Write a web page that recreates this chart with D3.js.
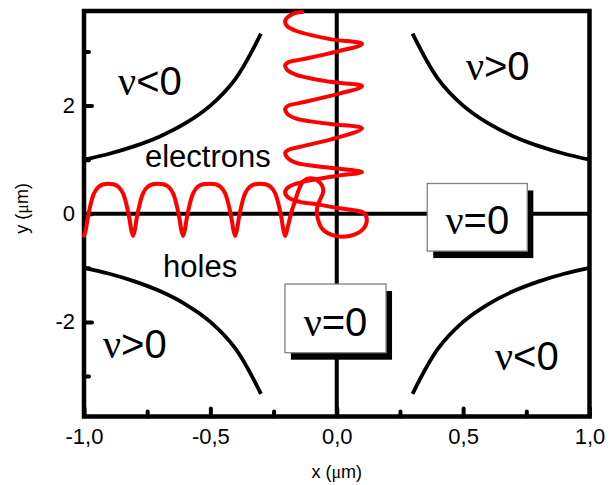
<!DOCTYPE html>
<html>
<head>
<meta charset="utf-8">
<script src="https://cdn.jsdelivr.net/npm/d3@7"></script>
<style>
body { margin: 0; background: #fff; }
svg text { font-family: Arial, "Liberation Sans", sans-serif; fill: #000; }
</style>
</head>
<body>
<script>
// axis ticks
var xTicks = [-1, -0.5, 0, 0.5, 1];
var xTickLabels = ["-1,0", "-0,5", "0,0", "0,5", "1,0"];
var xMinor = [-0.75, -0.25, 0.25, 0.75];
var yTicks = [-2, 0, 2];
var yTickLabels = ["-2", "0", "2"];
var yMinor = [-3, -1, 1, 3];

// the four hyperbola branches (x, y in um)
var hypUL = [[-1, 1], [-0.9, 1.11], [-0.8, 1.25], [-0.7, 1.43], [-0.6, 1.67], [-0.5, 2], [-0.4, 2.5], [-0.3, 3.33]];
var hypUR = [[0.3, 3.33], [0.4, 2.5], [0.5, 2], [0.6, 1.67], [0.7, 1.43], [0.8, 1.25], [0.9, 1.11], [1, 1]];
var hypLL = [[-1, -1], [-0.9, -1.11], [-0.8, -1.25], [-0.7, -1.43], [-0.6, -1.67], [-0.5, -2], [-0.4, -2.5], [-0.3, -3.33]];
var hypLR = [[0.3, -3.33], [0.4, -2.5], [0.5, -2], [0.6, -1.67], [0.7, -1.43], [0.8, -1.25], [0.9, -1.11], [1, -1]];

// red trajectory, left end -> top end
var wave = [
  [-1.000,-0.41],[-0.993,-0.30],[-0.986,-0.10],[-0.975,0.15],[-0.960,0.38],[-0.942,0.50],[-0.922,0.545],[-0.903,0.555],
  [-0.884,0.545],[-0.864,0.50],[-0.846,0.38],[-0.831,0.15],[-0.820,-0.10],[-0.813,-0.30],[-0.806,-0.41],
  [-0.799,-0.30],[-0.792,-0.10],[-0.781,0.15],[-0.766,0.38],[-0.748,0.50],[-0.728,0.545],[-0.707,0.555],
  [-0.686,0.545],[-0.666,0.50],[-0.648,0.38],[-0.633,0.15],[-0.622,-0.10],[-0.615,-0.30],[-0.608,-0.41],
  [-0.601,-0.30],[-0.594,-0.10],[-0.583,0.15],[-0.568,0.38],[-0.550,0.50],[-0.530,0.545],[-0.505,0.555],
  [-0.480,0.545],[-0.460,0.50],[-0.442,0.38],[-0.427,0.15],[-0.416,-0.10],[-0.409,-0.30],[-0.402,-0.41],
  [-0.395,-0.30],[-0.388,-0.10],[-0.377,0.15],[-0.362,0.38],[-0.344,0.50],[-0.324,0.545],[-0.303,0.555],
  [-0.282,0.545],[-0.262,0.50],[-0.244,0.38],[-0.229,0.15],[-0.218,-0.10],[-0.211,-0.30],[-0.204,-0.41],
  [-0.194,-0.25],[-0.180,0.02],[-0.164,0.25],[-0.148,0.47],[-0.130,0.61],[-0.105,0.655],[-0.078,0.62],[-0.058,0.52],
  [-0.054,0.40],[-0.066,0.26],[-0.078,0.10],[-0.075,-0.09],[-0.057,-0.28],[-0.014,-0.40],[0.050,-0.41],[0.101,-0.30],
  [0.119,-0.11],[0.105,0.02],[0.061,0.07],[-0.002,0.11],[-0.073,0.17],[-0.145,0.22],[-0.192,0.30],[-0.204,0.41],
  [-0.188,0.50],[-0.133,0.59],[-0.002,0.70],
  [0.100,0.77],[-0.026,0.85],[-0.160,0.94],[-0.196,1.04],[-0.204,1.13],[-0.192,1.18],[-0.145,1.24],[-0.026,1.37],[0.100,1.58],
  [-0.026,1.66],[-0.160,1.76],[-0.196,1.85],[-0.204,1.94],[-0.192,2.00],[-0.145,2.05],[-0.026,2.18],[0.100,2.36],
  [-0.026,2.44],[-0.160,2.57],[-0.196,2.66],[-0.204,2.75],[-0.192,2.80],[-0.145,2.85],[-0.026,2.97],[0.100,3.14],
  [-0.026,3.23],[-0.160,3.38],[-0.196,3.47],[-0.204,3.57],[-0.176,3.69],[-0.137,3.73]
];

// region labels: sign, anchor (x, y in um)
var nuSigns = ["<0", ">0", ">0", "<0"];
var nuAt = [[-0.865, 2.2], [0.511, 2.47], [-0.925, -2.67], [0.626, -2.89]];
var words = ["electrons", "holes"];
var wordsAt = [[-0.759, 0.86], [-0.687, -1.17]];
// boxed "nu=0" labels: [x0, x1, yTop, yBottom]
var boxes = [[-0.205, 0.195, -1.30, -2.57], [0.358, 0.754, 0.56, -0.69]];

var W = 614, H = 485;
var svg = d3.select("body").append("svg").attr("width", W).attr("height", H);

var x = d3.scaleLinear().domain([-1, 1]).range([84, 589.5]);
var y = d3.scaleLinear().domain([-3.75, 3.75]).range([416.5, 11]);

var line = d3.line()
    .x(d => x(d[0]))
    .y(d => y(d[1]))
    .curve(d3.curveCatmullRom.alpha(0.5));

// centre axes
svg.append("line").attr("x1", x(-1)).attr("x2", x(1)).attr("y1", y(0)).attr("y2", y(0))
    .attr("stroke", "#000").attr("stroke-width", 4);
svg.append("line").attr("x1", x(0)).attr("x2", x(0)).attr("y1", y(3.75)).attr("y2", y(-3.75))
    .attr("stroke", "#000").attr("stroke-width", 4);

// axes with inward ticks
var gx = svg.append("g").attr("transform", "translate(0," + y(-3.75) + ")")
    .call(d3.axisBottom(x).tickValues(xTicks).tickSize(-8).tickPadding(12)
        .tickFormat((d, i) => xTickLabels[i]));
var gxm = svg.append("g").attr("transform", "translate(0," + y(-3.75) + ")")
    .call(d3.axisBottom(x).tickValues(xMinor).tickSize(-5).tickFormat(""));
var gy = svg.append("g").attr("transform", "translate(" + x(-1) + ",0)")
    .call(d3.axisLeft(y).tickValues(yTicks).tickSize(-8).tickPadding(9)
        .tickFormat((d, i) => yTickLabels[i]));
var gym = svg.append("g").attr("transform", "translate(" + x(-1) + ",0)")
    .call(d3.axisLeft(y).tickValues(yMinor).tickSize(-5).tickFormat(""));

[gx, gxm, gy, gym].forEach(g => {
  g.select(".domain").remove();
  g.selectAll(".tick line").attr("stroke", "#000").attr("stroke-width", 4).attr("stroke-linecap", "round");
  g.selectAll(".tick text").style("font-size", "22px").attr("fill", "#000");
});

// frame
svg.append("rect").attr("x", x(-1)).attr("y", y(3.75))
    .attr("width", x(1) - x(-1)).attr("height", y(-3.75) - y(3.75))
    .attr("fill", "none").attr("stroke", "#000").attr("stroke-width", 4.5);

// hyperbolas
svg.selectAll(".hyp").data([hypUL, hypUR, hypLL, hypLR]).enter().append("path")
    .attr("class", "hyp")
    .attr("d", line)
    .attr("fill", "none").attr("stroke", "#000").attr("stroke-width", 3.8);

// red wave
svg.append("path").datum(wave)
    .attr("d", line)
    .attr("fill", "none").attr("stroke", "#ff0000").attr("stroke-width", 4)
    .attr("stroke-linejoin", "round").attr("stroke-linecap", "round");

// nu labels
function nuText(sel, sign) {
  sel.append("tspan").style("font-family", "'Liberation Serif', 'Times New Roman', serif").text("\u03bd");
  sel.append("tspan").text(sign);
}
nuSigns.forEach((s, i) => {
  var t = svg.append("text").attr("x", x(nuAt[i][0])).attr("y", y(nuAt[i][1]))
      .style("font-size", "40px");
  nuText(t, s);
});

words.forEach((w, i) => {
  svg.append("text").attr("x", x(wordsAt[i][0])).attr("y", y(wordsAt[i][1]))
      .style("font-size", "31px").text(w);
});

// boxed labels with drop shadow
boxes.forEach(b => {
  var bx = x(b[0]), by = y(b[2]), bw = x(b[1]) - x(b[0]), bh = y(b[3]) - y(b[2]);
  svg.append("rect").attr("x", bx + 6).attr("y", by + 7).attr("width", bw).attr("height", bh).attr("fill", "#000");
  svg.append("rect").attr("x", bx).attr("y", by).attr("width", bw).attr("height", bh)
      .attr("fill", "#fff").attr("stroke", "#808080").attr("stroke-width", 1.3);
  var t = svg.append("text").attr("x", bx + bw / 2).attr("y", by + bh * 0.75)
      .attr("text-anchor", "middle").style("font-size", "40px");
  nuText(t, "=0");
});

// axis titles
var xt = svg.append("text").attr("x", x(0)).attr("y", 478).attr("text-anchor", "middle").style("font-size", "18px");
xt.append("tspan").text("x (");
xt.append("tspan").style("font-family", "'Liberation Serif', serif").text("\u03bc");
xt.append("tspan").text("m)");
var yt = svg.append("text").attr("transform", "translate(28," + y(0.1) + ") rotate(-90)")
    .attr("text-anchor", "middle").style("font-size", "18px");
yt.append("tspan").text("y (");
yt.append("tspan").style("font-family", "'Liberation Serif', serif").text("\u03bc");
yt.append("tspan").text("m)");
</script>
</body>
</html>
